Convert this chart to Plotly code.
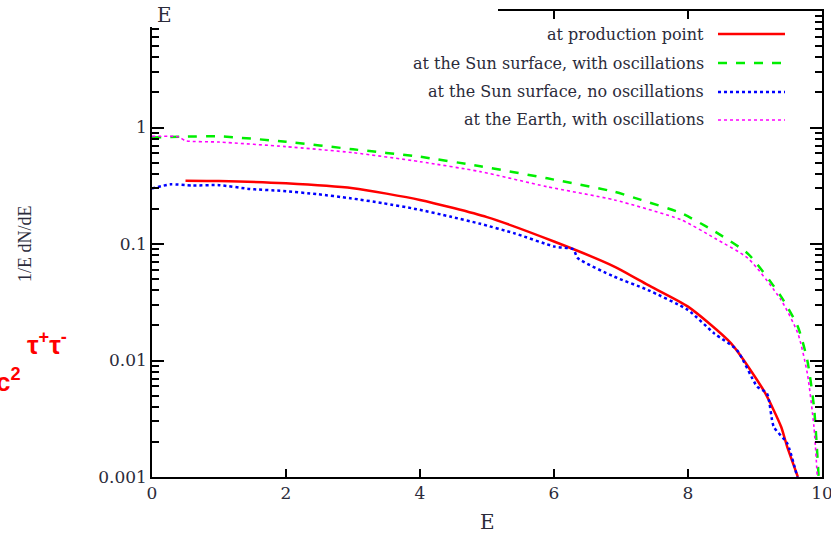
import plotly.graph_objects as go

# ---- data ----
E_prod = [0.5, 1.0, 2.0, 3.0, 4.0, 5.0, 6.0, 6.9, 7.4, 8.0, 8.64, 9.14, 9.39, 9.48, 9.64]
y_prod = [0.349, 0.347, 0.332, 0.301, 0.239, 0.170, 0.105, 0.064, 0.0445, 0.029, 0.0141, 0.0054, 0.0027, 0.00182, 0.001]

E_sun_osc = [0.0, 0.5, 1.0, 2.0, 3.0, 4.0, 4.9, 5.9, 6.9, 7.3, 7.9, 8.4, 8.9, 9.39, 9.64, 9.78, 9.88, 9.95]
y_sun_osc = [0.82, 0.835, 0.84, 0.755, 0.65, 0.561, 0.465, 0.366, 0.281, 0.239, 0.184, 0.128, 0.082, 0.0353, 0.0195, 0.0101, 0.004, 0.001]

E_sun_noosc = [0.0, 0.28, 0.6, 1.0, 1.46, 1.96, 2.46, 2.96, 3.45, 3.95, 4.45, 4.9, 5.4, 6.01, 6.29, 6.35,
               6.9, 7.4, 8.0, 8.39, 8.73, 9.03, 9.18, 9.28, 9.48, 9.63]
y_sun_noosc = [0.30, 0.325, 0.318, 0.32, 0.297, 0.285, 0.268, 0.247, 0.224, 0.199, 0.172, 0.149, 0.124, 0.095, 0.090, 0.076,
               0.0524, 0.0403, 0.0271, 0.0171, 0.0123, 0.006, 0.0052, 0.0027, 0.00195, 0.001]

E_earth = [0.0, 0.4, 0.5, 1.0, 2.0, 3.0, 4.0, 4.9, 5.9, 6.9, 7.9, 8.4, 8.9, 9.39, 9.64, 9.78, 9.88, 9.93]
y_earth = [0.84, 0.83, 0.77, 0.75, 0.685, 0.608, 0.509, 0.418, 0.31, 0.239, 0.161, 0.112, 0.075, 0.033, 0.0171, 0.0078, 0.0027, 0.001]

series_names = ["at production point", "at the Sun surface, with oscillations",
                "at the Sun surface, no oscillations", "at the Earth, with oscillations"]
series_colors = ["#ff0000", "#00ee00", "#0000ff", "#ff00ff"]
series_dash = ["solid", "dash", "dot", "dot"]
series_width = [2.5, 2.5, 2.5, 1.6]

x_ticks = [0, 2, 4, 6, 8, 10]
y_ticks = [0.001, 0.01, 0.1, 1]
y_ticktext = ["0.001", "0.01", "0.1", "1"]

# ---- figure ----
fig = go.Figure()
data = [(E_prod, y_prod), (E_sun_osc, y_sun_osc), (E_sun_noosc, y_sun_noosc), (E_earth, y_earth)]
for (xs, ys), name, col, dash, w in zip(data, series_names, series_colors, series_dash, series_width):
    fig.add_trace(go.Scatter(x=xs, y=ys, mode="lines", name=name, showlegend=False, hoverinfo="skip",
                             line=dict(color=col, dash=dash, width=w, shape="spline", smoothing=0.6)))

tickfont = dict(family="DejaVu Serif", size=17, color="#2b2b3a")
fig.update_layout(
    width=831, height=533,
    margin=dict(l=152, r=9, t=11, b=56, autoexpand=False),
    paper_bgcolor="white", plot_bgcolor="white",
    xaxis=dict(range=[0, 10], tickvals=x_ticks, ticks="inside", ticklen=8, tickwidth=1.5,
               showline=True, linewidth=1.5, linecolor="black", mirror="ticks", automargin=False,
               ticklabeloverflow="allow",
               showgrid=False, zeroline=False, tickfont=tickfont, tickcolor="black"),
    yaxis=dict(type="log", range=[-3, 1], tickvals=y_ticks, ticktext=y_ticktext, automargin=False,
               ticks="inside", ticklen=12, tickwidth=1.5, tickcolor="black",
               minor=dict(ticks="inside", ticklen=7, tickwidth=1.5, dtick="D1", showgrid=False, tickcolor="black"),
               showline=True, linewidth=1.5, linecolor="black", mirror="ticks",
               showgrid=False, zeroline=False, tickfont=tickfont),
)

# white cover over the top-left corner (as in the reference)
fig.add_shape(type="rect", xref="paper", yref="paper", x0=-0.03, x1=(498 - 152) / 670,
              y0=1 - (27 - 11) / 466, y1=1.03, fillcolor="white", line=dict(width=0), layer="above")

# legend drawn as text + line samples (text to the left of the sample)
row_y = [34, 63, 92, 120]
for name, col, dash, w, ry in zip(series_names, series_colors, series_dash, series_width, row_y):
    yp = 1 - (ry - 11) / 466
    fig.add_annotation(xref="paper", yref="paper", x=(706 - 152) / 670, y=yp, xanchor="right", yanchor="middle",
                       text=name, showarrow=False, font=dict(family="DejaVu Serif", size=16, color="#2b2b3a"))
    fig.add_shape(type="line", xref="paper", yref="paper", x0=(718 - 152) / 670, x1=(785 - 152) / 670,
                  y0=yp, y1=yp, line=dict(color=col, dash=dash, width=w))

# axis titles
fig.add_annotation(xref="paper", yref="paper", x=(164 - 152) / 670, y=1 - (15 - 11) / 466,
                   text="E", showarrow=False, xanchor="center", yanchor="middle",
                   font=dict(family="DejaVu Serif", size=20, color="#2b2b3a"))
fig.add_annotation(xref="x", yref="paper", x=5, y=-(522 - 477) / 466,
                   text="E", showarrow=False, xanchor="center", yanchor="middle",
                   font=dict(family="DejaVu Serif", size=20, color="#2b2b3a"))
fig.add_annotation(xref="paper", yref="paper", x=(25 - 152) / 670, y=1 - (244 - 11) / 466,
                   text="1/E dN/dE", showarrow=False, textangle=-90, xanchor="center", yanchor="middle",
                   font=dict(family="Liberation Serif", size=18, color="#2b2b3a"))

# red overlay labels
fig.add_annotation(xref="paper", yref="paper", x=(25 - 152) / 670, y=1 - (343 - 11) / 466,
                   text="τ<sup>+</sup>τ<sup>-</sup>", showarrow=False, xanchor="left", yanchor="middle",
                   font=dict(family="Liberation Sans", size=26, color="#ff0000", weight="bold"))
fig.add_annotation(xref="paper", yref="paper", x=(-6 - 152) / 670, y=1 - (380 - 11) / 466,
                   text="c<sup>2</sup>", showarrow=False, xanchor="left", yanchor="middle",
                   font=dict(family="Liberation Sans", size=26, color="#ff0000", weight="bold"))

fig.write_html("out.html", config={"displayModeBar": False},
               post_script="document.body.style.margin='0';")
